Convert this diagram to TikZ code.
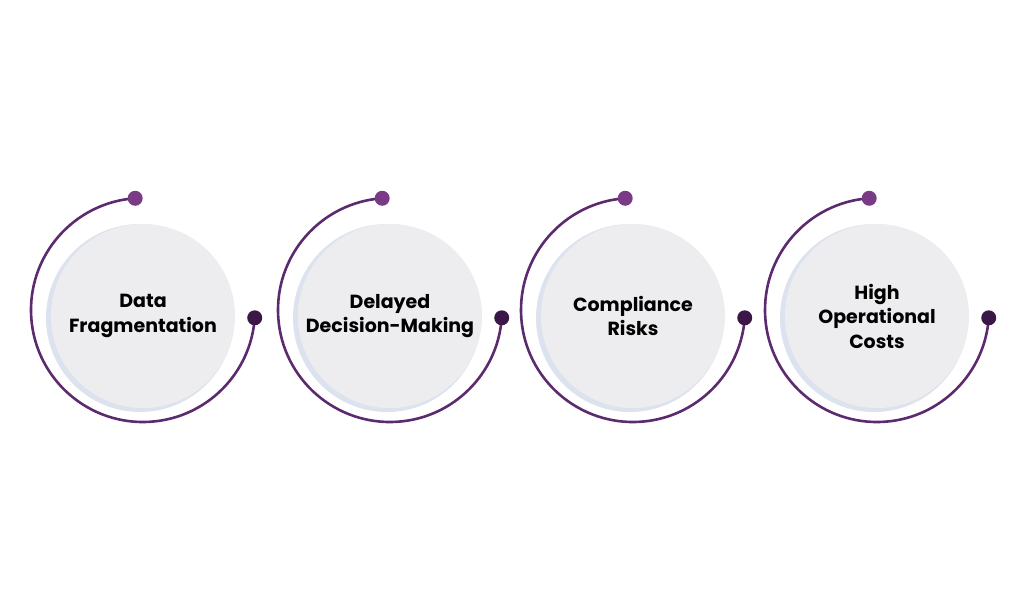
\documentclass[tikz,border=0pt]{standalone}
\usepackage{fontspec}
\setmainfont{Poppins}
\definecolor{arcpurple}{HTML}{5C2A6E}
\definecolor{dottop}{HTML}{7A3B86}
\definecolor{dotright}{HTML}{3B1747}
\definecolor{discgray}{HTML}{EDEDEF}
\definecolor{shadowblue}{HTML}{DCE3EE}
\tikzset{
  ring/.style={draw=arcpurple, line width=2.6pt},
  disc/.style={circle, fill=discgray, minimum size=184pt, inner sep=0pt,
    align=center, font=\fontsize{19}{24.5}\selectfont\bfseries, text=black},
  halo/.style={circle, fill=shadowblue, minimum size=188pt, inner sep=0pt},
  enddot/.style={circle, inner sep=0pt, minimum size=15pt},
}
\begin{document}
\begin{tikzpicture}[x=1pt,y=-1pt]
\useasboundingbox (0,0) rectangle (1024,597);
\foreach \cx/\name/\txt in {143/A/{Data\\Fragmentation},
  390/B/{Delayed\\Decision-Making},
  633/C/{Compliance\\Risks},
  877/D/{High\\Operational\\Costs}}{
  \node[halo] (halo\name) at (\cx-3,318) {};
  \node[disc] (disc\name) at (\cx,316) {\txt};
  \draw[ring] (\cx,310) ++(-94:112) coordinate (s\name)
    arc[start angle=-94, end angle=-356, radius=112] coordinate (e\name);
  \node[enddot, fill=dottop] (top\name) at (s\name) {};
  \node[enddot, fill=dotright] (right\name) at (e\name) {};
}
\end{tikzpicture}
\end{document}
